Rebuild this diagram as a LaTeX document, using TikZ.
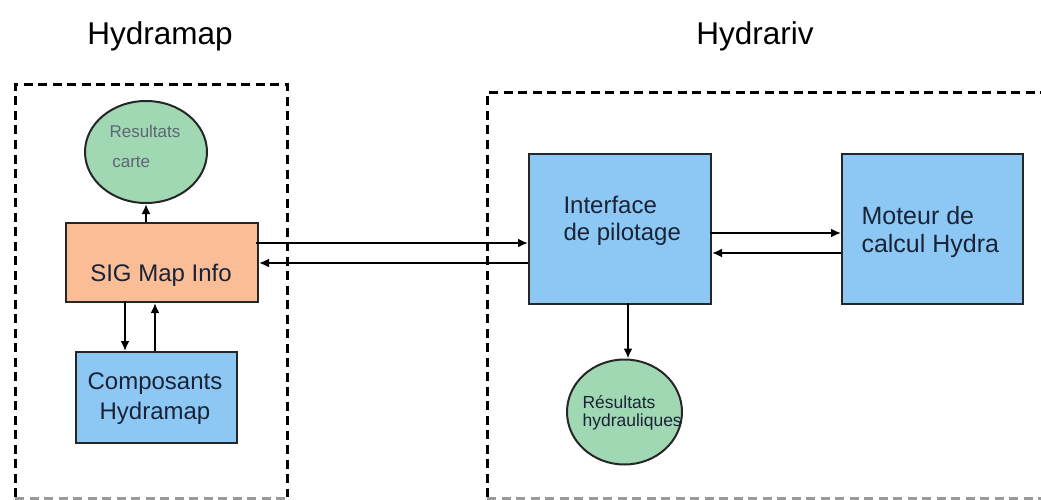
\documentclass[tikz,border=0pt]{standalone}
\usepackage{fontspec}
\setmainfont{Liberation Sans}
\usetikzlibrary{arrows.meta,shapes.geometric}
\definecolor{boxblue}{RGB}{141,200,244}
\definecolor{boxorange}{RGB}{250,189,150}
\definecolor{resgreen}{RGB}{160,216,180}
\definecolor{txt}{RGB}{25,35,55}
\tikzset{
  blk/.style={draw=black!85, line width=2pt, inner sep=0pt, anchor=north west, text=txt},
  res/.style={draw=black!85, line width=2pt, ellipse, inner sep=0pt, text=txt},
  conn/.style={line width=2pt, -{Latex[length=10pt,width=9pt]}},
  zone/.style={line width=3pt, dash pattern=on 9pt off 5.5pt},
  ttl/.style={font=\fontsize{31.5}{36}\selectfont, text=black},
}
\begin{document}
\begin{tikzpicture}[x=1pt,y=-1pt]
\useasboundingbox (0,0) rectangle (1041,500);
\clip (0,0) rectangle (1041,500);
% titles
\node[ttl] (t1) at (160,36) {Hydramap};
\node[ttl] (t2) at (755,36) {Hydrariv};
% zones
\draw[zone] (15,497) -- (15,85) -- (287,85) -- (287,497);
\draw[zone, black!40] (15,498.5) -- (287,498.5);
\draw[zone] (487,497) -- (487,93) -- (1060,93);
\draw[zone, black!40] (487,498.5) -- (1060,498.5);
% nodes
\node[blk, fill=boxorange, minimum width=192pt, minimum height=79pt] (sig) at (65,222) {};
\node[font=\fontsize{24}{28}\selectfont, text=txt] (sigt) at (161,275) {SIG Map Info};
\node[blk, fill=boxblue, minimum width=161pt, minimum height=91pt] (comp) at (75,351) {};
\node[font=\fontsize{24}{30}\selectfont, text=txt, align=center] (compt) at (155,399) {Composants\\Hydramap};
\node[blk, fill=boxblue, minimum width=182pt, minimum height=150pt] (intf) at (528,153) {};
\node[font=\fontsize{24}{27}\selectfont, text=txt, align=left, anchor=west] (intft) at (560,221) {Interface\\de pilotage};
\node[blk, fill=boxblue, minimum width=181pt, minimum height=150pt] (mot) at (841,153) {};
\node[font=\fontsize{25}{28}\selectfont, text=txt, align=left, anchor=west] (mott) at (858,232) {Moteur de\\calcul Hydra};
\node[res, fill=resgreen, minimum width=122pt, minimum height=102pt] (rc) at (146,152) {};
\node[font=\fontsize{17}{30}\selectfont, text=txt!70, align=left, anchor=west] (rct) at (106,146) {Resultats\\ \,carte};
\node[res, fill=resgreen, minimum width=115pt, minimum height=105pt] (rh) at (624.5,412) {};
\node[font=\fontsize{17.5}{18}\selectfont, text=txt, align=left, anchor=west] (rht) at (579,413) {Résultats\\hydrauliques};
% connectors
\draw[conn] (sig.north -| rc.south) -- (rc.south);
\draw[conn] (125,301) coordinate (a1) -- (a1 |- comp.north);
\draw[conn] (155,351) coordinate (a2) -- (a2 |- sig.south);
\draw[conn] (256,243) coordinate (b1) -- (b1 -| intf.west);
\draw[conn] (528,263) coordinate (b2) -- (b2 -| sig.east);
\draw[conn] (710,233) coordinate (c1) -- (c1 -| mot.west);
\draw[conn] (841,253) coordinate (c2) -- (c2 -| intf.east);
\draw[conn] (628,303) coordinate (d1) -- (d1 |- rh.north);
\end{tikzpicture}
\end{document}
